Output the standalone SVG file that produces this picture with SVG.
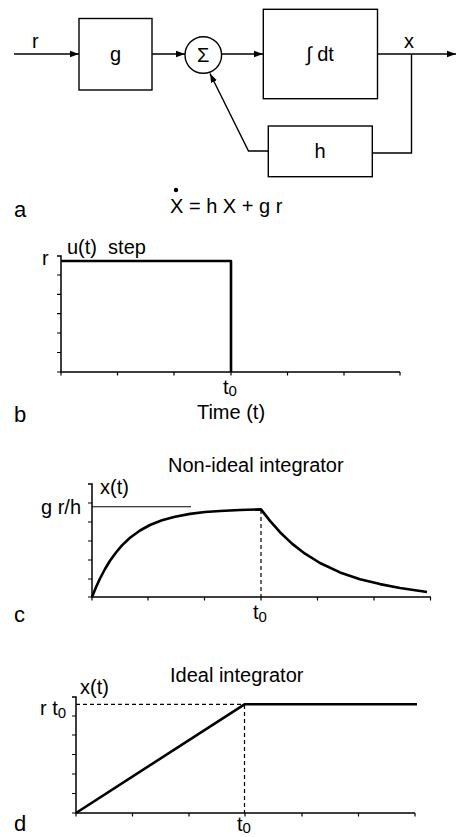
<svg xmlns="http://www.w3.org/2000/svg" width="456" height="837" viewBox="0 0 456 837">
<style>
text{font-family:"Liberation Sans",Arial,sans-serif;font-size:20px;fill:#000}
.box{fill:#fff;stroke:#000;stroke-width:1.4}
.ln{fill:none;stroke:#000;stroke-width:1.4}
.ax{fill:none;stroke:#000;stroke-width:1.5}
.tk{fill:none;stroke:#000;stroke-width:1.2}
.cv{fill:none;stroke:#000;stroke-width:2.6;stroke-linejoin:round}
.thin{fill:none;stroke:#000;stroke-width:1.1}
.dash{fill:none;stroke:#000;stroke-width:1.2;stroke-dasharray:4 3}
.sub{font-size:15px}
.mid{text-anchor:middle}
.pl{font-size:22px}
.pre{white-space:pre}
</style>
<defs>
<marker id="arr" markerWidth="9" markerHeight="8" refX="9" refY="4" orient="auto" markerUnits="userSpaceOnUse"><path d="M0,0.8 L9,4 L0,7.2 z" fill="#000"/></marker>
</defs>

<g id="connectors">
<line class="ln" x1="14" y1="54" x2="79" y2="54" marker-end="url(#arr)"/>
<line class="ln" x1="152" y1="54" x2="185" y2="54" marker-end="url(#arr)"/>
<line class="ln" x1="221.5" y1="54" x2="263" y2="54" marker-end="url(#arr)"/>
<line class="ln" x1="377.5" y1="54" x2="456" y2="54" marker-end="url(#arr)"/>
<polyline class="ln" points="411.5,54 411.5,153 372,153"/>
<polyline class="ln" points="268,151 248.5,151 210,73.5" marker-end="url(#arr)"/>
</g>

<g id="node-r-label"><text x="32" y="48">r</text></g>
<g id="node-g">
<rect class="box" x="79" y="18.5" width="73" height="71.5"/>
<text class="mid" x="115.5" y="61">g</text>
</g>
<g id="node-sum">
<circle class="box" cx="203.3" cy="55" r="18.3"/>
<text class="mid" x="203.3" y="62">Σ</text>
</g>
<g id="node-integrator">
<rect class="box" x="263.3" y="9.3" width="114.2" height="89.4"/>
<text class="mid" x="320" y="61">∫ dt</text>
</g>
<g id="node-x-label"><text x="404" y="48">x</text></g>
<g id="node-h">
<rect class="box" x="268.3" y="126" width="104" height="50.7"/>
<text class="mid" x="320" y="158">h</text>
</g>

<g id="panel-a">
<text class="pl" x="14" y="217">a</text>
<circle cx="176" cy="190" r="2.2" fill="#000"/>
<text x="170" y="213">X = h X + g r</text>
</g>

<g id="panel-b">
<polyline class="ax" points="57,256 61,256 61,372 400,372"/>
<path class="tk" d="M57,275H61M57,294.3H61M57,313.7H61M57,333H61M57,352.5H61M57,372H61M61,372V375.5M117.5,372V375.5M174,372V375.5M231,372V375.5M287.5,372V375.5M344,372V375.5M400,372V375.5"/>
<polyline class="cv" points="61,261 231,261 231,372"/>
<text x="42" y="265">r</text>
<text class="pre" x="67" y="254">u(t)  step</text>
<text x="223" y="394">t<tspan class="sub" dy="2">0</tspan></text>
<text class="mid" x="231" y="419">Time (t)</text>
<text class="pl" x="14" y="422">b</text>
</g>

<g id="panel-c">
<text x="168" y="472">Non-ideal integrator</text>
<polyline class="ax" points="88,484 92,484 92,597 431,597"/>
<path class="tk" d="M88,503H92M88,522H92M88,541H92M88,560H92M88,579H92M88,597H92M92,597V600.5M148,597V600.5M204.5,597V600.5M261,597V600.5M317.5,597V600.5M374,597V600.5M430.5,597V600.5"/>
<line class="thin" x1="92" y1="506.7" x2="191" y2="506.7"/>
<polyline class="cv" points="92,597 96,587.2 100,578.5 105,569 110,560.8 116,552.5 122,545.4 130,537.8 140,530.5 150,525 162,520.3 175,516.7 190,513.9 205,512 220,511 240,510 261,509.4 270,520.9 280,532.2 292,543.6 305,553.7 320,563 340,572.4 360,579.2 380,584.1 400,588 427,592"/>
<line class="dash" x1="261" y1="510" x2="261" y2="597"/>
<text x="100" y="494">x(t)</text>
<text x="41" y="514">g r/h</text>
<text x="253" y="619">t<tspan class="sub" dy="3">0</tspan></text>
<text class="pl" x="14" y="622">c</text>
</g>

<g id="panel-d">
<text x="170" y="682">Ideal integrator</text>
<polyline class="ax" points="72,697 76,697 76,813 415,813"/>
<path class="tk" d="M72,716H76M72,735H76M72,754.5H76M72,774H76M72,793.5H76M72,813H76M76,813V816.5M132.5,813V816.5M189,813V816.5M245,813V816.5M302,813V816.5M358.5,813V816.5M415,813V816.5"/>
<line class="dash" x1="76" y1="704.3" x2="244" y2="704.3"/>
<line class="dash" x1="244.5" y1="705" x2="244.5" y2="813"/>
<polyline class="cv" points="76,813 244.5,704.3 417,704.3"/>
<text x="80" y="694">x(t)</text>
<text x="40" y="715">r t<tspan class="sub" dy="3">0</tspan></text>
<text x="237" y="831">t<tspan class="sub" dy="2">0</tspan></text>
<text class="pl" x="14" y="831">d</text>
</g>
</svg>
